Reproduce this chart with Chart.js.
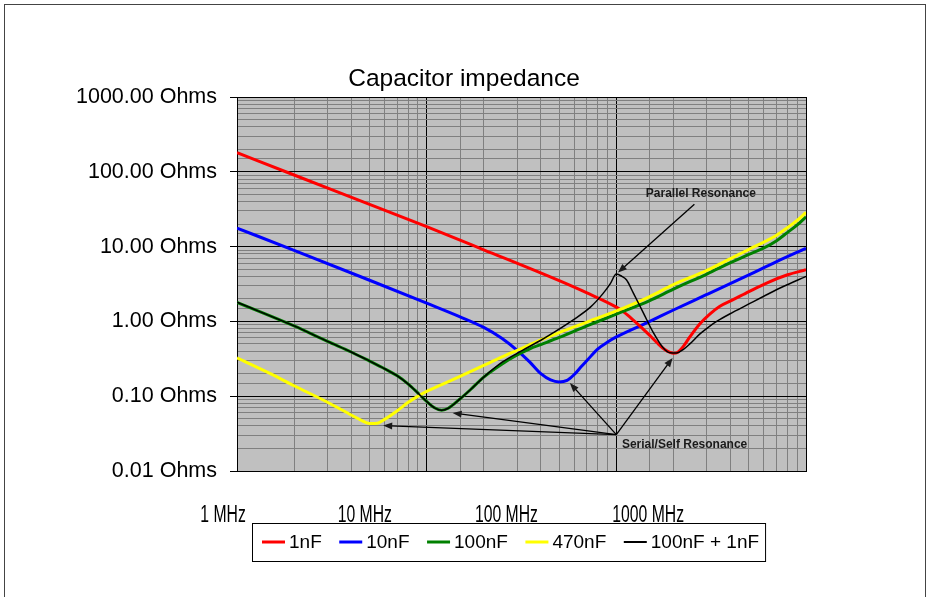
<!DOCTYPE html>
<html>
<head>
<meta charset="utf-8">
<title>Capacitor impedance</title>
<script src="https://cdn.jsdelivr.net/npm/chart.js@4.4.1/dist/chart.umd.min.js"></script>
<style>
  body { margin: 0; background: #fff; }
  #wrap { width: 928px; height: 597px; }
</style>
</head>
<body>
<div id="wrap"><canvas id="impedance-chart" width="928" height="597"></canvas></div>
<script>
// Impedance readings, MHz -> Ohms, one pair of arrays per capacitor
const freq1nF = [1, 2, 5, 10, 20, 50, 70, 100, 110, 122, 135, 150, 165, 180, 192, 200, 210, 225, 244, 276, 311, 350, 413, 500, 620, 800, 1000];
const ohms1nF = [180, 90.6, 36.7, 18.5, 9.07, 3.5, 2.4, 1.55, 1.32, 1.06, 0.84, 0.65, 0.51, 0.42, 0.385, 0.375, 0.385, 0.46, 0.62, 0.93, 1.25, 1.58, 1.95, 2.5, 3.26, 4.2, 4.9];

const freq10nF = [1, 2, 5, 10, 15, 20, 25, 30, 35, 40, 45, 50, 55, 60, 65, 70, 80, 90, 100, 150, 200, 300, 500, 700, 1000];
const ohms10nF = [17.7, 8.9, 3.55, 1.75, 1.15, 0.83, 0.59, 0.41, 0.285, 0.2, 0.165, 0.155, 0.163, 0.195, 0.245, 0.3, 0.43, 0.53, 0.62, 1.0, 1.42, 2.29, 4.2, 6.3, 9.5];

const freq100nF = [1, 2, 3, 4, 5, 6, 7, 8, 9, 10, 11, 12, 13, 15, 17, 20, 25, 30, 35, 40, 50, 70, 100, 150, 200, 300, 400, 500, 600, 700, 800, 900, 1000];
const ohms100nF = [1.8, 0.87, 0.54, 0.39, 0.295, 0.233, 0.187, 0.145, 0.11, 0.085, 0.07, 0.065, 0.069, 0.092, 0.122, 0.18, 0.27, 0.355, 0.43, 0.49, 0.61, 0.87, 1.25, 1.9, 2.7, 4.3, 6.1, 7.9, 9.6, 12, 15.5, 19.5, 25];

const freq470nF = [1, 1.5, 2, 3, 4, 4.5, 5, 5.5, 6, 7, 8, 9, 10, 12, 15, 20, 25, 30, 40, 50, 70, 100, 150, 200, 300, 400, 500, 600, 700, 800, 900, 1000];
const ohms470nF = [0.325, 0.2, 0.138, 0.083, 0.056, 0.048, 0.043, 0.0435, 0.049, 0.064, 0.083, 0.1, 0.116, 0.143, 0.184, 0.258, 0.335, 0.41, 0.565, 0.71, 0.98, 1.38, 2.15, 3.1, 4.8, 6.9, 9.2, 11.5, 14.2, 18, 22.5, 28.7];

const freqPair = [1, 2, 3, 4, 5, 6, 7, 8, 9, 10, 11, 12, 13, 15, 17, 20, 25, 32, 40, 48, 59, 73, 85, 93, 100, 107, 113, 123, 139, 157, 177, 192, 208, 225, 244, 276, 310, 338, 413, 506, 620, 759, 1000];
const ohmsPair = [1.8, 0.87, 0.54, 0.39, 0.295, 0.233, 0.187, 0.145, 0.11, 0.085, 0.07, 0.065, 0.069, 0.092, 0.122, 0.18, 0.285, 0.41, 0.56, 0.74, 1.04, 1.55, 2.35, 3.2, 4.3, 4.0, 3.6, 2.39, 1.29, 0.7, 0.44, 0.38, 0.378, 0.42, 0.5, 0.68, 0.86, 1.0, 1.33, 1.74, 2.27, 2.93, 4.0];

const seriesLabels = ['1nF', '10nF', '100nF', '470nF', '100nF + 1nF'];
const seriesColors = ['#ff0000', '#0000ff', '#008000', '#ffff00', '#000000'];

const xTickValues = [1, 10, 100, 1000];
const xTickLabels = ['1 MHz', '10 MHz', '100 MHz', '1000 MHz'];
const yTickValues = [0.01, 0.1, 1, 10, 100, 1000];
const yTickLabels = ['0.01 Ohms', '0.10 Ohms', '1.00 Ohms', '10.00 Ohms', '100.00 Ohms', '1000.00 Ohms'];

// Callouts, given as [MHz, Ohms]
const parallelNote = { text: 'Parallel Resonance', at: [143, 46.2], from: [258, 36.9], tips: [[102, 4.5]] };
const serialNote = {
  text: 'Serial/Self Resonance', at: [107, 0.0206], from: [100, 0.0306],
  tips: [[198, 0.325], [56.9, 0.15], [13.7, 0.0597], [5.9, 0.0405]]
};

const FONT = '"Liberation Sans", Arial, sans-serif';

function toPoints(xs, ys) {
  return xs.map((x, i) => ({ x: x, y: ys[i] }));
}

function isDecade(v) {
  const l = Math.log10(v);
  return Math.abs(l - Math.round(l)) < 1e-6;
}

function drawArrow(ctx, x1, y1, x2, y2) {
  const ang = Math.atan2(y2 - y1, x2 - x1);
  const len = 9, half = 3.5;
  const cos = Math.cos(ang), sin = Math.sin(ang);
  ctx.beginPath();
  ctx.moveTo(x1, y1);
  ctx.lineTo(x2 - cos * len * 0.8, y2 - sin * len * 0.8);
  ctx.stroke();
  ctx.beginPath();
  ctx.moveTo(x2, y2);
  ctx.lineTo(x2 - len * cos + half * sin, y2 - len * sin - half * cos);
  ctx.lineTo(x2 - len * cos - half * sin, y2 - len * sin + half * cos);
  ctx.closePath();
  ctx.fill();
}

const chartDecor = {
  id: 'chartDecor',
  beforeDraw(chart) {
    const { ctx, chartArea: a } = chart;
    ctx.save();
    ctx.fillStyle = '#ffffff';
    ctx.fillRect(0, 0, chart.width, chart.height);
    ctx.fillStyle = '#c0c0c0';
    ctx.fillRect(a.left, a.top, a.right - a.left, a.bottom - a.top);
    ctx.restore();
  },
  afterDraw(chart) {
    const { ctx, chartArea: a } = chart;
    const xs = chart.scales.x, ys = chart.scales.y;
    const px = p => [xs.getPixelForValue(p[0]), ys.getPixelForValue(p[1])];
    ctx.save();

    // outer frame
    ctx.strokeStyle = '#444';
    ctx.lineWidth = 1;
    ctx.strokeRect(4.5, 4.5, 921, 700);

    // title
    ctx.fillStyle = '#000';
    ctx.font = '24.5px ' + FONT;
    ctx.textAlign = 'center';
    ctx.textBaseline = 'alphabetic';
    ctx.fillText('Capacitor impedance', chart.width / 2, a.top - 11);

    // frequency labels are set narrow and on a tighter spread than the grid
    const labelOrigin = 182, labelSpread = 0.747;
    ctx.font = '23.5px ' + FONT;
    xTickValues.forEach((v, i) => {
      const cx = labelOrigin + labelSpread * (xs.getPixelForValue(v) - labelOrigin);
      ctx.save();
      ctx.translate(cx, a.bottom + 51);
      ctx.scale(0.67, 1);
      ctx.fillText(xTickLabels[i], 0, 0);
      ctx.restore();
    });

    // legend
    ctx.font = '19px ' + FONT;
    ctx.textAlign = 'left';
    const boxLeft = a.left + 15, boxTop = a.bottom + 52, lineY = boxTop + 19;
    let cursor = boxLeft + 10;
    chart.data.datasets.forEach((ds, i) => {
      ctx.strokeStyle = ds.borderColor;
      ctx.lineWidth = i === 4 ? 2 : 3;
      ctx.beginPath();
      ctx.moveTo(cursor, lineY);
      ctx.lineTo(cursor + 23, lineY);
      ctx.stroke();
      ctx.fillStyle = '#000';
      ctx.fillText(ds.label, cursor + 27, lineY + 6);
      cursor += 27 + ctx.measureText(ds.label).width + 17.5;
    });
    ctx.strokeStyle = '#000';
    ctx.lineWidth = 1;
    ctx.strokeRect(boxLeft + 0.5, boxTop + 0.5, cursor - 17.5 + 6 - boxLeft, 38);

    // resonance callouts
    ctx.fillStyle = '#1a1a1a';
    ctx.strokeStyle = '#000';
    ctx.lineWidth = 1.3;
    ctx.font = 'bold 12px ' + FONT;
    [parallelNote, serialNote].forEach(note => {
      const [tx, ty] = px(note.at);
      ctx.fillText(note.text, tx, ty);
      const [fx, fy] = px(note.from);
      note.tips.forEach(t => {
        const [x2, y2] = px(t);
        drawArrow(ctx, fx, fy, x2, y2);
      });
    });

    ctx.restore();
  }
};

const datasets = [
  [freq1nF, ohms1nF],
  [freq10nF, ohms10nF],
  [freq100nF, ohms100nF],
  [freq470nF, ohms470nF],
  [freqPair, ohmsPair]
].map(([f, z], i) => ({
  label: seriesLabels[i],
  data: toPoints(f, z),
  borderColor: seriesColors[i],
  backgroundColor: seriesColors[i],
  borderWidth: i === 4 ? 1.5 : 3,
  pointRadius: 0,
  cubicInterpolationMode: 'monotone',
  // the pair trace sits on top, then 470nF over 100nF
  order: [3, 4, 2, 1, 0][i]
}));

new Chart(document.getElementById('impedance-chart'), {
  type: 'line',
  data: { datasets: datasets },
  options: {
    responsive: false,
    animation: false,
    layout: { padding: { top: 97, left: 10, right: 122, bottom: 126 } },
    plugins: {
      legend: { display: false },
      title: { display: false },
      tooltip: { enabled: false }
    },
    scales: {
      x: {
        type: 'logarithmic',
        min: 1,
        max: 1000,
        afterFit: scale => { scale.height = 0; },
        ticks: { display: false },
        grid: {
          drawTicks: false,
          color: c => (c.tick && isDecade(c.tick.value)) ? '#000' : '#808080',
          lineWidth: 1
        },
        border: { display: true, color: '#000', width: 1 }
      },
      y: {
        type: 'logarithmic',
        min: 0.01,
        max: 1000,
        afterFit: scale => { scale.width = 227; },
        ticks: {
          autoSkip: false,
          padding: 13,
          color: '#000',
          font: { family: FONT, size: 21.5 },
          callback: v => {
            if (!isDecade(v)) return '';
            const k = yTickValues.findIndex(t => Math.abs(Math.log10(t) - Math.log10(v)) < 1e-6);
            return k >= 0 ? yTickLabels[k] : '';
          }
        },
        grid: {
          tickLength: 7,
          color: c => (c.tick && isDecade(c.tick.value)) ? '#000' : '#808080',
          tickColor: c => (c.tick && isDecade(c.tick.value)) ? '#000' : 'rgba(0,0,0,0)',
          lineWidth: 1
        },
        border: { display: true, color: '#000', width: 1 }
      }
    }
  },
  plugins: [chartDecor]
});
</script>
</body>
</html>
